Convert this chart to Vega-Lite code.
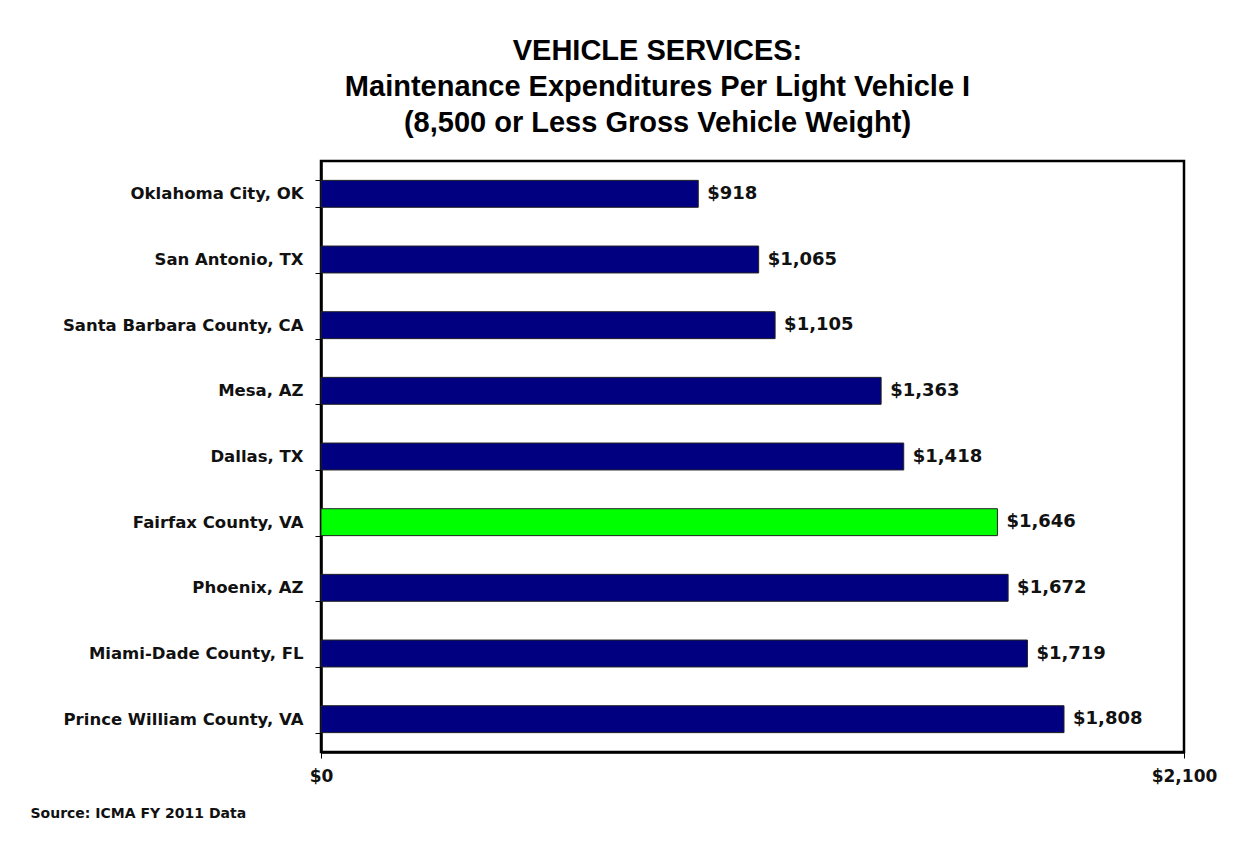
{
  "$schema": "https://vega.github.io/schema/vega-lite/v6.json",
  "width": 863,
  "height": 591,
  "autosize": {"type": "none"},
  "padding": {"left": 321, "top": 161, "right": 52, "bottom": 90},
  "background": "white",
  "config": {
    "view": {"stroke": "black", "strokeWidth": 2.5},
    "font": "DejaVu Sans"
  },
  "title": {
    "text": ["VEHICLE SERVICES:", "Maintenance Expenditures Per Light Vehicle I", "(8,500 or Less Gross Vehicle Weight)"],
    "font": "Liberation Sans Narrow, Liberation Sans",
    "fontWeight": "bold",
    "fontSize": 29,
    "lineHeight": 36,
    "color": "black",
    "anchor": "middle",
    "frame": "group",
    "dx": -95,
    "offset": 15
  },
  "data": {
    "values": [
      {"city": "Oklahoma City, OK", "value": 918},
      {"city": "San Antonio, TX", "value": 1065},
      {"city": "Santa Barbara County, CA", "value": 1105},
      {"city": "Mesa, AZ", "value": 1363},
      {"city": "Dallas, TX", "value": 1418},
      {"city": "Fairfax County, VA", "value": 1646},
      {"city": "Phoenix, AZ", "value": 1672},
      {"city": "Miami-Dade County, FL", "value": 1719},
      {"city": "Prince William County, VA", "value": 1808}
    ]
  },
  "encoding": {
    "y": {
      "field": "city",
      "type": "nominal",
      "sort": "x",
      "scale": {"paddingInner": 0.59, "paddingOuter": 0.295},
      "axis": {
        "title": null,
        "domainColor": "black",
        "domainWidth": 2.5,
        "tickBand": "extent",
        "tickColor": "black",
        "tickSize": 6,
        "tickWidth": 1,
        "labelFont": "DejaVu Sans",
        "labelFontWeight": "bold",
        "labelFontSize": 16.5,
        "labelColor": "#111111",
        "labelPadding": 12,
        "labelLimit": 0
      }
    },
    "x": {
      "field": "value",
      "type": "quantitative",
      "scale": {"domain": [0, 2100], "nice": false},
      "axis": {
        "values": [0, 2100],
        "format": "$,.0f",
        "grid": false,
        "domainColor": "black",
        "domainWidth": 2.5,
        "tickColor": "black",
        "tickSize": 6,
        "labelFlush": false,
        "labelFont": "DejaVu Sans",
        "labelFontWeight": "bold",
        "labelFontSize": 17,
        "labelColor": "#111111",
        "labelPadding": 10,
        "title": "Source: ICMA FY 2011 Data",
        "titleFont": "DejaVu Sans",
        "titleFontWeight": "bold",
        "titleFontSize": 14,
        "titleColor": "#111111",
        "titleAnchor": "start",
        "titleAlign": "left",
        "titleBaseline": "alphabetic",
        "titleX": -291,
        "titleY": 65
      }
    }
  },
  "layer": [
    {
      "mark": {"type": "bar", "stroke": "#222222", "strokeWidth": 1},
      "encoding": {
        "color": {
          "condition": {"test": "datum.city === 'Fairfax County, VA'", "value": "#00FF00"},
          "value": "#000080"
        }
      }
    },
    {
      "mark": {"type": "text", "align": "left", "baseline": "middle", "dx": 9, "font": "DejaVu Sans", "fontWeight": "bold", "fontSize": 18, "color": "#111111"},
      "encoding": {
        "text": {"field": "value", "type": "quantitative", "format": "$,.0f"}
      }
    }
  ]
}
